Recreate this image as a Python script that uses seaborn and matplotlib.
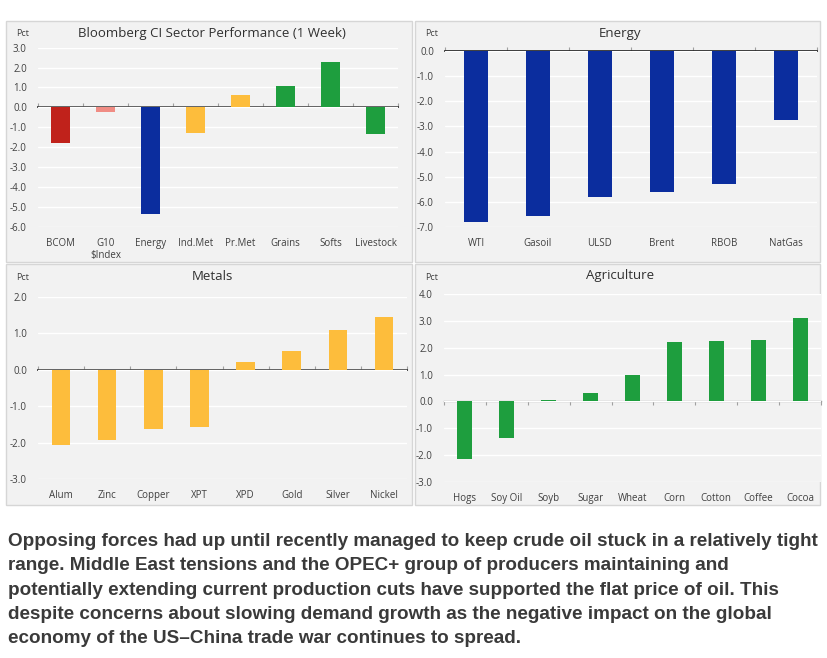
#%%
# Bloomberg commodity sector performance - 4 panel bar chart
import matplotlib
matplotlib.use('Agg')
import matplotlib.pyplot as plt
import seaborn as sns
from matplotlib.patches import Rectangle

sns.set_theme(style='white')
plt.rcParams['font.family'] = ['Open Sans', 'DejaVu Sans']

#%%
# data
sector_cats = ['BCOM', 'G10\n$Index', 'Energy', 'Ind.Met', 'Pr.Met', 'Grains', 'Softs', 'Livestock']
sector_vals = [-1.8, -0.25, -5.35, -1.3, 0.6, 1.05, 2.3, -1.35]

energy_cats = ['WTI', 'Gasoil', 'ULSD', 'Brent', 'RBOB', 'NatGas']
energy_vals = [-6.8, -6.55, -5.8, -5.6, -5.3, -2.75]

metals_cats = ['Alum', 'Zinc', 'Copper', 'XPT', 'XPD', 'Gold', 'Silver', 'Nickel']
metals_vals = [-2.05, -1.92, -1.62, -1.58, 0.2, 0.5, 1.1, 1.45]

agri_cats = ['Hogs', 'Soy Oil', 'Soyb', 'Sugar', 'Wheat', 'Corn', 'Cotton', 'Coffee', 'Cocoa']
agri_vals = [-2.15, -1.35, 0.05, 0.3, 1.0, 2.2, 2.25, 2.3, 3.12]

caption = ("Opposing forces had up until recently managed to keep crude oil stuck in a relatively tight\n"
           "range. Middle East tensions and the OPEC+ group of producers maintaining and\n"
           "potentially extending current production cuts have supported the flat price of oil. This\n"
           "despite concerns about slowing demand growth as the negative impact on the global\n"
           "economy of the US\u2013China trade war continues to spread.")

# colours
RED = '#c0221b'
PINK = '#f08c84'
BLUE = '#0b2d9e'
YELLOW = '#fdbd3c'
GREEN = '#1e9e3e'
sector_cols = [RED, PINK, BLUE, YELLOW, YELLOW, GREEN, GREEN, GREEN]
energy_cols = [BLUE] * len(energy_cats)
metals_cols = [YELLOW] * len(metals_cats)
agri_cols = [GREEN] * len(agri_cats)

PANEL = '#f2f2f2'
TXT = '#404040'

#%%
W, H = 827, 658
fig = plt.figure(figsize=(W / 100, H / 100), dpi=100)
fig.patch.set_facecolor('white')


def fx(px):
    return px / W


def fy(py):
    return 1 - py / H


def panel_box(x0, y0, x1, y1):
    fig.patches.append(Rectangle((fx(x0), fy(y1)), fx(x1 - x0), (y1 - y0) / H,
                                 transform=fig.transFigure, facecolor=PANEL,
                                 edgecolor='#d6d6d6', linewidth=1, zorder=-5))


def bar_panel(box, area, cats, vals, cols, ylim, title, width):
    x0, y0, x1, y1 = box
    panel_box(x0, y0, x1, y1)
    l, t, r, b = area
    ax = fig.add_axes([fx(l), fy(b), fx(r - l), (b - t) / H])
    ax.set_facecolor(PANEL)
    sns.barplot(x=cats, y=vals, hue=cats, palette=cols, legend=False,
                width=width, saturation=1, linewidth=0, ax=ax, zorder=3)
    n = len(cats)
    ax.set_xlim(-0.5, n - 0.5)
    ax.set_ylim(*ylim)
    yt = list(range(int(ylim[0]), int(ylim[1]) + 1))
    ax.set_yticks(yt)
    ax.set_yticklabels([f'{v:.1f}' for v in yt])
    ax.yaxis.grid(True, color='white', linewidth=1)
    ax.set_axisbelow(True)
    for s in ax.spines.values():
        s.set_visible(False)
    ax.tick_params(axis='both', length=0, labelsize=7, labelcolor=TXT)
    ax.tick_params(axis='x', pad=8)
    ax.tick_params(axis='y', pad=8)
    # zero line with ticks between categories
    frac = (0 - ylim[0]) / (ylim[1] - ylim[0])
    sec = ax.secondary_xaxis(frac)
    sec.set_xticks([i - 0.5 for i in range(n + 1)])
    sec.set_xticklabels([''] * (n + 1))
    sec.tick_params(length=3, width=0.8, color='#a0a0a0', labelbottom=False, labeltop=False)
    sec.spines['bottom'].set_color('#a0a0a0')
    sec.spines['bottom'].set_linewidth(1)
    # labels
    fig.text(fx(x0 + 17), fy(y0 + 13), 'Pct', fontsize=6.5, color=TXT, ha='center', va='center')
    fig.text(fx((x0 + x1) / 2 + 3), fy(y0 + 12), title, fontsize=9.5, color='#303030',
             ha='center', va='center')
    return ax


bar_panel((6, 21, 412, 262), (38, 47.7, 398, 226.7), sector_cats, sector_vals, sector_cols,
          (-6, 3), 'Bloomberg CI Sector Performance (1 Week)', 0.42)
bar_panel((415, 21, 820, 262), (445, 50.7, 817, 227.3), energy_cats, energy_vals, energy_cols,
          (-7, 0), 'Energy', 0.39)
bar_panel((6, 264, 412, 505), (38, 296.7, 407, 479.3), metals_cats, metals_vals, metals_cols,
          (-3, 2), 'Metals', 0.4)
bar_panel((415, 264, 820, 505), (444, 294.3, 821, 481.7), agri_cats, agri_vals, agri_cols,
          (-3, 4), 'Agriculture', 0.36)

#%%
fig.text(fx(8), fy(533), caption, ha='left', va='top', color='#3a3a3a',
         fontsize=13.6, fontweight='bold', linespacing=1.56,
         family=['Liberation Sans', 'DejaVu Sans'])

fig.savefig('out.png', dpi=100)
